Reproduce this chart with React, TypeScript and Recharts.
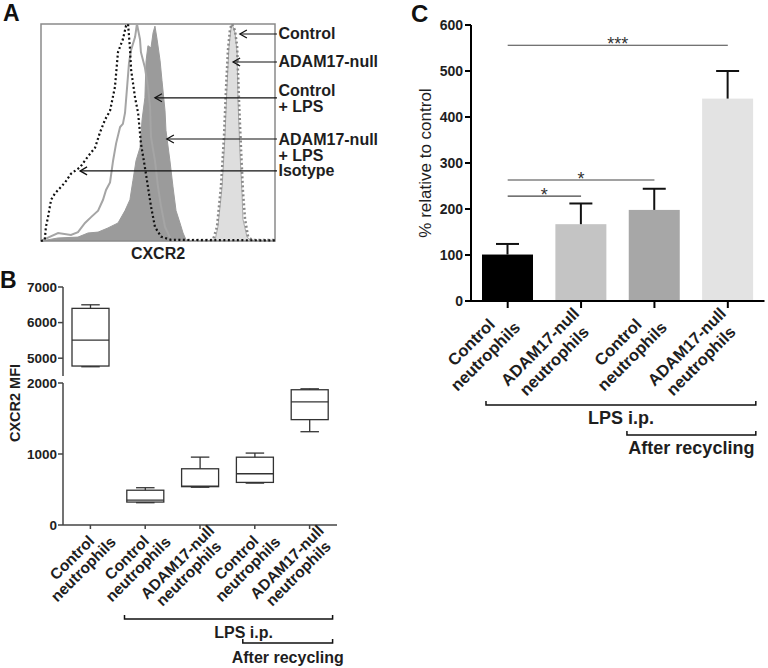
import {
  ComposedChart,
  BarChart,
  Bar,
  Area,
  Line,
  XAxis,
  YAxis,
  Cell,
  ReferenceLine,
  ReferenceArea,
} from "recharts";

const FONT = '"Liberation Sans", Arial, Helvetica, sans-serif';
const INK = "#1e1e1e";

// ---------- Panel A: CXCR2 histograms (x = channel 0-100, y = % of max) ----------
const isotype: [number, number][] = [
  [0, 0], [1.6, 0.5], [2.1, 6.5], [3, 11], [4.3, 19], [6, 22], [10.3, 27], [12.8, 31],
  [16.7, 34], [20.1, 39], [23.1, 43], [25.2, 50], [27.4, 56], [29.5, 60], [31.6, 71],
  [32.9, 87], [35, 93], [36.3, 99], [37.2, 100], [38, 89], [38.5, 79], [40.2, 66],
  [41.5, 59], [42.7, 45], [44.4, 34], [45.7, 25], [47, 16], [48.7, 6.5], [51.3, 2],
  [55.6, 0.5], [100, 0.3],
];
const controlLps: [number, number][] = [
  [0, 0], [7.3, 1.4], [15.8, 1.8], [20.1, 3.7], [24.4, 4.1], [28.6, 6], [32.9, 8.3],
  [35.9, 14], [38, 19], [39.3, 28], [40.6, 37], [42.3, 43], [43.2, 56], [44.4, 66],
  [44.9, 83], [45.7, 90], [47, 89], [47.9, 96], [48.7, 99], [49.6, 93], [50.9, 83],
  [51.7, 74], [53, 60], [53.4, 51], [55.1, 37], [56.4, 25], [57.7, 14], [59.4, 8.3],
  [60.7, 3.7], [62, 0.5], [64, 0],
];
const adamLps: [number, number][] = [
  [0, 0], [0.9, 0.5], [7.3, 3.7], [12.8, 2.8], [15.8, 4.1], [18.8, 8.3], [21.4, 11],
  [24.4, 14], [26.5, 19], [27.8, 23.5], [29.5, 27], [30.8, 37], [32.1, 45], [33.8, 52.5],
  [35, 54], [35.9, 59], [36.8, 71], [37.6, 82], [38.5, 88], [40.2, 94], [41, 100],
  [42.3, 93], [42.7, 87], [44.4, 80], [45.7, 71], [46.6, 62], [47, 48], [48.7, 37],
  [50, 25], [51.3, 16], [53, 6.5], [55.6, 0.5], [60, 0],
];
const control: [number, number][] = [
  [70, 0], [74.4, 0.5], [75.6, 6.5], [77.4, 25], [78.6, 48], [79.5, 71], [80.3, 89],
  [81.2, 98], [81.7, 100], [82.9, 96], [83.8, 87], [84.2, 64], [85, 41], [85.9, 22],
  [86.3, 10], [88, 2], [89.3, 0.5], [92, 0],
];
const adamNull: [number, number][] = [
  [55, 0.4], [73.5, 0.5], [75.2, 6.5], [76.9, 25], [78.2, 48], [79.1, 71], [79.9, 88],
  [80.8, 98], [81.7, 100], [82.9, 97], [83.8, 90], [84.6, 65], [85.5, 42], [86.3, 23],
  [87.2, 10], [88.5, 2], [90.2, 0.5], [100, 0.4],
];

const histArrows = [
  { lines: ["Control"], x: 85.0, y: 95.4, dy: 0 },
  { lines: ["ADAM17-null"], x: 82.1, y: 82.5, dy: 0 },
  { lines: ["Control", "+ LPS"], x: 48.7, y: 66.0, dy: -7.7 },
  { lines: ["ADAM17-null", "+ LPS"], x: 53.8, y: 47.0, dy: 0 },
  { lines: ["Isotype"], x: 16.7, y: 32.3, dy: 0 },
];

// ---------- Panel B: CXCR2 MFI box plots ----------
const bCats = ["ctl", "ctl_lps", "adam_lps", "ctl_rec", "adam_rec"];
const bLabels = [
  ["Control", "neutrophils"],
  ["Control", "neutrophils"],
  ["ADAM17-null", "neutrophils"],
  ["Control", "neutrophils"],
  ["ADAM17-null", "neutrophils"],
];
const bMin = [4760, 314, 532, 590, 1314];
const bQ1 = [4780, 323, 540, 600, 1484];
const bMed = [5510, 350, 548, 722, 1735];
const bQ3 = [6400, 490, 792, 955, 1905];
const bMax = [6500, 525, 956, 1013, 1918];
const bUpperTicks = [5000, 6000, 7000];
const bLowerTicks = [0, 1000, 2000];

// ---------- Panel C: % relative to control ----------
const cCats = ["ctl", "adam", "ctl_rec", "adam_rec"];
const cLabels = [
  ["Control", "neutrophils"],
  ["ADAM17-null", "neutrophils"],
  ["Control", "neutrophils"],
  ["ADAM17-null", "neutrophils"],
];
const cMean = [101, 167, 198, 440];
const cSem = [23, 45, 46, 60];
const cTicks = [0, 100, 200, 300, 400, 500, 600];
const cSig = [
  { from: "ctl", to: "adam", y: 228, mark: "*" },
  { from: "ctl", to: "ctl_rec", y: 263, mark: "*" },
  { from: "ctl", to: "adam_rec", y: 556, mark: "***" },
];

const bGroups = [
  { label: "LPS i.p.", from: "ctl_lps", to: "adam_rec" },
  { label: "After recycling", from: "ctl_rec", to: "adam_rec" },
];
const cGroups = [
  { label: "LPS i.p.", from: "ctl", to: "adam_rec" },
  { label: "After recycling", from: "ctl_rec", to: "adam_rec" },
];

// tables built from the arrays above
const histSeries: Record<string, [number, number][]> = {
  iso: isotype,
  ctlLps: controlLps,
  adamLps: adamLps,
  ctl: control,
  adam: adamNull,
};
const histTable = (() => {
  const rows = new Map<number, any>();
  Object.entries(histSeries).forEach(([key, pts]) => {
    pts.forEach(([x, y]) => {
      const r = rows.get(x) ?? { x };
      r[key] = y;
      rows.set(x, r);
    });
  });
  return [...rows.values()].sort((a, b) => a.x - b.x);
})();

const boxRows = bCats.map((id, i) => ({
  id,
  min: bMin[i],
  q1: bQ1[i],
  med: bMed[i],
  q3: bQ3[i],
  max: bMax[i],
}));
const barRows = cCats.map((id, i) => ({ id, mean: cMean[i], sem: cSem[i] }));

const C_FILLS = ["#000000", "#c4c4c4", "#a7a7a7", "#e3e3e3"];

// ---------- helpers ----------
const measureCtx =
  typeof document !== "undefined" ? document.createElement("canvas").getContext("2d") : null;
const textWidth = (s: string, font: string, size: number) => {
  if (!measureCtx) return s.length * size * 0.6;
  measureCtx.font = font;
  return measureCtx.measureText(s).width;
};

const SlantTick = (p: any) => {
  const { x, y, payload, labels, size, lh, uEnd, vc, tickSize } = p;
  const lines: string[] = labels[payload.value] ?? [];
  const font = `bold ${size}px ${FONT}`;
  const maxW = Math.max(...lines.map((s) => textWidth(s, font, size)));
  const uc = uEnd - maxW / 2;
  const v0 = vc - ((lines.length - 1) * lh) / 2;
  return (
    <g transform={`translate(${x},${y - tickSize}) rotate(-45)`}>
      {lines.map((s, i) => (
        <text
          key={i}
          x={uc}
          y={v0 + i * lh}
          textAnchor="middle"
          dominantBaseline="central"
          fontFamily={FONT}
          fontWeight="bold"
          fontSize={size}
          fill={INK}
        >
          {s}
        </text>
      ))}
    </g>
  );
};

const NumTick = (p: any) => {
  const { x, y, payload, size } = p;
  return (
    <text
      x={x}
      y={y}
      textAnchor="end"
      dominantBaseline="central"
      fontFamily={FONT}
      fontWeight="bold"
      fontSize={size}
      fill={INK}
    >
      {payload.value}
    </text>
  );
};

const ArrowShape = (p: any) => {
  const { x1, x2, y1, lines, dy } = p;
  const tx = Math.min(x1, x2);
  const ex = Math.max(x1, x2);
  return (
    <g>
      <line x1={tx} y1={y1} x2={ex + 2} y2={y1} stroke="#111" strokeWidth={1.2} />
      <polyline
        points={`${tx + 7},${y1 - 4} ${tx},${y1} ${tx + 7},${y1 + 4}`}
        fill="none"
        stroke="#111"
        strokeWidth={1.3}
      />
      {lines.map((s: string, i: number) => (
        <text
          key={i}
          x={ex + 3.5}
          y={y1 + dy + i * 16}
          dominantBaseline="central"
          fontFamily={FONT}
          fontWeight="bold"
          fontSize={16}
          fill={INK}
        >
          {s}
        </text>
      ))}
    </g>
  );
};

const BoxShape = (p: any) => {
  const { x, y, width, height, payload } = p;
  const h = Math.abs(height);
  if (!payload || !(h > 0)) return null;
  const { min, q1, med, q3, max } = payload;
  const top = Math.min(y, y + height);
  const k = h / (max - min);
  const py = (v: number) => top + (max - v) * k;
  const cx = x + width / 2;
  const cap = width / 4;
  return (
    <g stroke="#333" strokeWidth={1.3} fill="none">
      <line x1={cx - cap} x2={cx + cap} y1={py(max)} y2={py(max)} />
      <line x1={cx} x2={cx} y1={py(max)} y2={py(q3)} />
      <rect x={x} y={py(q3)} width={width} height={py(q1) - py(q3)} />
      <line x1={x} x2={x + width} y1={py(med)} y2={py(med)} />
      <line x1={cx} x2={cx} y1={py(q1)} y2={py(min)} />
      <line x1={cx - cap} x2={cx + cap} y1={py(min)} y2={py(min)} />
    </g>
  );
};

const MeanSemBar = (p: any) => {
  const { x, y, width, height, fill, payload } = p;
  if (!(height > 0)) return null;
  const k = height / payload.mean;
  const top = y - payload.sem * k;
  const cx = x + width / 2;
  return (
    <g>
      <rect x={x} y={y} width={width} height={height} fill={fill} />
      <line x1={cx} x2={cx} y1={y} y2={top} stroke="#111" strokeWidth={2} />
      <line x1={cx - 11.5} x2={cx + 11.5} y1={top} y2={top} stroke="#111" strokeWidth={2} />
    </g>
  );
};

const SigShape = (p: any) => {
  const { x1, x2, y1, mark } = p;
  return (
    <g>
      <line x1={x1} x2={x2} y1={y1} y2={y1} stroke="#444" strokeWidth={1.2} />
      <text
        x={(x1 + x2) / 2}
        y={y1 + 5}
        textAnchor="middle"
        fontFamily={FONT}
        fontSize={18}
        fill="#333"
      >
        {mark}
      </text>
    </g>
  );
};

const Bracket = (p: any) => {
  const { x1, x2, y1, padL, padR, dy, textDy, textDx, label, size } = p;
  const a = Math.min(x1, x2) - padL;
  const b = Math.max(x1, x2) + padR;
  const yy = y1 + dy;
  return (
    <g>
      <polyline
        points={`${a},${yy - 4} ${a},${yy} ${b},${yy} ${b},${yy - 4}`}
        fill="none"
        stroke="#111"
        strokeWidth={1.5}
      />
      <text
        x={(a + b) / 2 + textDx}
        y={yy + textDy}
        textAnchor="middle"
        dominantBaseline="central"
        fontFamily={FONT}
        fontWeight="bold"
        fontSize={size}
        fill={INK}
      >
        {label}
      </text>
    </g>
  );
};

const bLabelMap = Object.fromEntries(bCats.map((c, i) => [c, bLabels[i]]));
const cLabelMap = Object.fromEntries(cCats.map((c, i) => [c, cLabels[i]]));

const bGroupStyle = [
  { padL: 20.7, padR: 23, dy: 94, textDy: 13, textDx: 15, size: 16 },
  { padL: 12, padR: 23, dy: 118, textDy: 14, textDx: 0, size: 16 },
];
const cGroupStyle = [
  { padL: 21.7, padR: 28, dy: 104, textDy: 13, textDx: 0, size: 18 },
  { padL: 27.5, padR: 28, dy: 134, textDy: 13, textDx: 0, size: 18 },
];

const axisB = { stroke: "#444", strokeWidth: 1.5 };
const axisC = { stroke: "#000", strokeWidth: 2 };

export default function App() {
  return (
    <div
      style={{
        position: "absolute",
        left: 0,
        top: 0,
        width: 768,
        height: 668,
        background: "#fff",
        overflow: "hidden",
      }}
    >
      {/* A */}
      <div style={{ position: "absolute", left: 0, top: 0 }}>
        <ComposedChart
          width={390}
          height={270}
          data={histTable}
          margin={{ top: 24, right: 115, bottom: 0, left: 41 }}
        >
          <XAxis
            dataKey="x"
            type="number"
            domain={[0, 100]}
            tick={false}
            tickLine={false}
            axisLine={false}
            height={29}
          />
          <YAxis type="number" domain={[0, 100]} hide />
          <Area
            dataKey="ctlLps"
            type="linear"
            fill="#9b9b9b"
            fillOpacity={1}
            stroke="#9b9b9b"
            strokeWidth={1}
            connectNulls
            dot={false}
            activeDot={false}
            isAnimationActive={false}
          />
          <Area
            dataKey="ctl"
            type="linear"
            fill="#dedede"
            fillOpacity={1}
            stroke="#aaaaaa"
            strokeWidth={1}
            connectNulls
            dot={false}
            activeDot={false}
            isAnimationActive={false}
          />
          <Line
            dataKey="adamLps"
            type="linear"
            stroke="#a5a5a5"
            strokeWidth={2}
            connectNulls
            dot={false}
            activeDot={false}
            isAnimationActive={false}
          />
          <Line
            dataKey="adam"
            type="linear"
            stroke="#888888"
            strokeWidth={2.5}
            strokeDasharray="2 2.5"
            connectNulls
            dot={false}
            activeDot={false}
            isAnimationActive={false}
          />
          <Line
            dataKey="iso"
            type="linear"
            stroke="#111111"
            strokeWidth={2.2}
            strokeDasharray="2 2.5"
            connectNulls
            dot={false}
            activeDot={false}
            isAnimationActive={false}
          />
          <ReferenceArea
            x1={0}
            x2={100}
            y1={0}
            y2={100}
            fill="none"
            stroke="#8a8a8a"
            strokeWidth={1.5}
            ifOverflow="visible"
          />
          {histArrows.map((a) => (
            <ReferenceLine
              key={a.lines.join(" ")}
              segment={[
                { x: a.x, y: a.y },
                { x: 100, y: a.y },
              ]}
              ifOverflow="visible"
              shape={(p: any) => <ArrowShape {...p} lines={a.lines} dy={a.dy} />}
            />
          ))}
        </ComposedChart>
      </div>

      {/* B upper segment */}
      <div style={{ position: "absolute", left: 0, top: 275 }}>
        <BarChart
          width={345}
          height={101}
          data={boxRows}
          margin={{ top: 12, right: 8, bottom: 0, left: 0 }}
          barSize={37}
        >
          <XAxis dataKey="id" hide />
          <YAxis
            width={63}
            domain={[4500, 7000]}
            ticks={bUpperTicks}
            interval={0}
            allowDataOverflow
            tick={<NumTick size={13.5} />}
            tickSize={5}
            tickMargin={1}
            axisLine={axisB}
            tickLine={axisB}
          />
          <Bar
            dataKey={(r: any) => (r.min >= 4500 ? [r.min, r.max] : null)}
            shape={BoxShape}
            isAnimationActive={false}
          />
        </BarChart>
      </div>

      {/* B lower segment */}
      <div style={{ position: "absolute", left: 0, top: 340 }}>
        <BarChart
          width={345}
          height={328}
          data={boxRows}
          margin={{ top: 43, right: 8, bottom: 0, left: 0 }}
          barSize={37}
        >
          <XAxis
            dataKey="id"
            height={143}
            interval={0}
            tickSize={4}
            tickMargin={0}
            axisLine={axisB}
            tickLine={axisB}
            tick={
              <SlantTick labels={bLabelMap} size={15.5} lh={16} uEnd={6} vc={18} tickSize={4} />
            }
          />
          <YAxis
            width={63}
            domain={[0, 2000]}
            ticks={bLowerTicks}
            interval={0}
            allowDataOverflow
            tick={<NumTick size={13.5} />}
            tickSize={5}
            tickMargin={1}
            axisLine={axisB}
            tickLine={axisB}
          />
          <Bar
            dataKey={(r: any) => (r.max <= 2000 ? [r.min, r.max] : null)}
            shape={BoxShape}
            isAnimationActive={false}
          />
          {bGroups.map((g, i) => (
            <ReferenceLine
              key={g.label}
              segment={[
                { x: g.from, y: 0 },
                { x: g.to, y: 0 },
              ]}
              ifOverflow="visible"
              shape={(p: any) => <Bracket {...p} {...bGroupStyle[i]} label={g.label} />}
            />
          ))}
        </BarChart>
      </div>

      {/* C */}
      <div style={{ position: "absolute", left: 390, top: 0 }}>
        <BarChart
          width={378}
          height={470}
          data={barRows}
          margin={{ top: 25, right: 3.5, bottom: 0, left: 0 }}
          barSize={51}
        >
          <XAxis
            dataKey="id"
            height={169}
            interval={0}
            tickSize={7}
            tickMargin={0}
            axisLine={axisC}
            tickLine={axisC}
            tick={
              <SlantTick labels={cLabelMap} size={16.5} lh={20} uEnd={-10} vc={13} tickSize={7} />
            }
          />
          <YAxis
            width={81}
            domain={[0, 600]}
            ticks={cTicks}
            interval={0}
            tick={<NumTick size={14} />}
            tickSize={6}
            tickMargin={2}
            axisLine={axisC}
            tickLine={axisC}
          />
          <Bar dataKey="mean" shape={MeanSemBar} isAnimationActive={false}>
            {barRows.map((r, i) => (
              <Cell key={r.id} fill={C_FILLS[i]} />
            ))}
          </Bar>
          {cSig.map((s) => (
            <ReferenceLine
              key={s.to}
              segment={[
                { x: s.from, y: s.y },
                { x: s.to, y: s.y },
              ]}
              ifOverflow="visible"
              shape={(p: any) => <SigShape {...p} mark={s.mark} />}
            />
          ))}
          {cGroups.map((g, i) => (
            <ReferenceLine
              key={g.label}
              segment={[
                { x: g.from, y: 0 },
                { x: g.to, y: 0 },
              ]}
              ifOverflow="visible"
              shape={(p: any) => <Bracket {...p} {...cGroupStyle[i]} label={g.label} />}
            />
          ))}
        </BarChart>
      </div>

      {/* panel letters and axis titles */}
      <svg
        width={768}
        height={668}
        style={{ position: "absolute", left: 0, top: 0, pointerEvents: "none" }}
      >
        <g fontFamily={FONT} fontWeight="bold" fill="#111">
          <text x={3} y={21} fontSize={23}>
            A
          </text>
          <text x={0} y={288} fontSize={23}>
            B
          </text>
          <text x={411} y={22} fontSize={24}>
            C
          </text>
        </g>
        <g fontFamily={FONT} fill={INK} textAnchor="middle" dominantBaseline="central">
          <text x={158} y={253} fontSize={16} fontWeight="bold">
            CXCR2
          </text>
          <text x={15} y={403} fontSize={14.5} fontWeight="bold" transform="rotate(-90 15 403)">
            CXCR2 MFI
          </text>
          <text x={425} y={163} fontSize={17} transform="rotate(-90 425 163)">
            % relative to control
          </text>
        </g>
      </svg>
    </div>
  );
}
